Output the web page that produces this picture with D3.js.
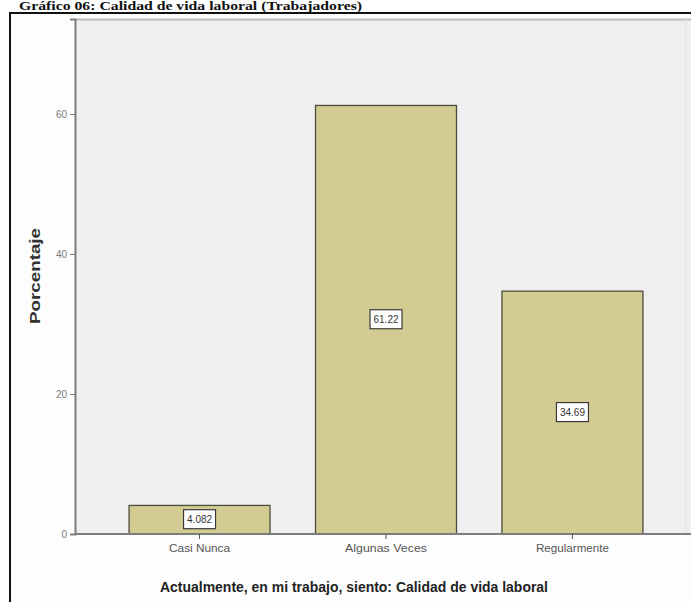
<!DOCTYPE html>
<html><head><meta charset="utf-8">
<script src="https://cdn.jsdelivr.net/npm/d3@7"></script>
<style>html,body{margin:0;padding:0;background:#fff;}svg{display:block;}</style>
</head><body>
<svg id="c" width="691" height="602"></svg>
<script>
const categories = ["Casi Nunca", "Algunas Veces", "Regularmente"];
const values = [4.082, 61.22, 34.69];
const valueLabels = ["4.082", "61.22", "34.69"];
const yTicks = [0, 20, 40, 60];
const chartTitle = "Gráfico 06: Calidad de vida laboral (Trabajadores)";
const xTitle = "Actualmente, en mi trabajo, siento: Calidad de vida laboral";
const yTitle = "Porcentaje";

const svg = d3.select("#c");
const W = 691, H = 602;
const plot = {left: 75, right: 686, top: 19, bottom: 534};

// outer frame
svg.append("rect").attr("x", 10).attr("y", 13).attr("width", W + 20).attr("height", H + 20)
  .attr("fill", "#fdfdfd").attr("stroke", "#111").attr("stroke-width", 2);

// title
svg.append("text").attr("x", 19).attr("y", 10)
  .attr("font-family", "Liberation Serif, Times New Roman, serif").attr("font-weight", "bold")
  .attr("font-size", 12.5).attr("fill", "#111")
  .attr("textLength", 343).attr("lengthAdjust", "spacingAndGlyphs")
  .text(chartTitle);

// plot background
svg.append("rect").attr("x", plot.left).attr("y", plot.top)
  .attr("width", W - plot.left).attr("height", plot.bottom - plot.top).attr("fill", "#efefef");
svg.append("line").attr("x1", plot.left).attr("x2", W).attr("y1", plot.top + 0.5).attr("y2", plot.top + 0.5)
  .attr("stroke", "#bdbdbd").attr("stroke-width", 2);
svg.append("line").attr("x1", plot.right).attr("x2", plot.right).attr("y1", plot.top).attr("y2", plot.bottom)
  .attr("stroke", "#e2e2e2").attr("stroke-width", 1);

const y = d3.scaleLinear().domain([0, (plot.bottom - plot.top) / 7]).range([plot.bottom, plot.top]);
const x = d3.scaleBand().domain(categories).range([75, 697]).paddingInner(0.244).paddingOuter(0.29);

// bars
svg.selectAll("rect.bar").data(values).join("rect").attr("class", "bar")
  .attr("x", (d, i) => x(categories[i]))
  .attr("y", d => y(d))
  .attr("width", x.bandwidth())
  .attr("height", d => y(0) - y(d))
  .attr("fill", "#d2cc93").attr("stroke", "#4d4c3c").attr("stroke-width", 1.3);

// y axis
const yAxis = svg.append("g").attr("transform", `translate(${plot.left},0)`)
  .call(d3.axisLeft(y).tickValues(yTicks).tickSize(5).tickPadding(3));
yAxis.select(".domain").attr("stroke", "#7d7d7d").attr("stroke-width", 2);
yAxis.selectAll(".tick line").attr("stroke", "#7d7d7d");
yAxis.selectAll(".tick text").attr("fill", "#7a7a7a").attr("font-family", "Liberation Sans, Arial, sans-serif")
  .attr("font-size", 10);

// x axis
const xAxis = svg.append("g").attr("transform", `translate(0,${plot.bottom})`)
  .call(d3.axisBottom(x).tickSize(5).tickPadding(6).tickSizeOuter(0));
xAxis.select(".domain").attr("d", `M${plot.left},0H${W}`).attr("stroke", "#7d7d7d").attr("stroke-width", 2);
xAxis.selectAll(".tick line").attr("stroke", "#555");
const tickWidths = {"Casi Nunca": 61, "Algunas Veces": 82, "Regularmente": 73};
xAxis.selectAll(".tick text").attr("fill", "#555").attr("font-family", "Liberation Sans, Arial, sans-serif")
  .attr("font-size", 10.5)
  .attr("textLength", d => tickWidths[d]).attr("lengthAdjust", "spacingAndGlyphs");

// value labels
const lab = svg.selectAll("g.vlab").data(values).join("g").attr("class", "vlab")
  .attr("transform", (d, i) => `translate(${x(categories[i]) + x.bandwidth() / 2},${y(d / 2)})`);
lab.append("rect").attr("x", -16).attr("y", -10).attr("width", 32).attr("height", 19)
  .attr("fill", "#fff").attr("stroke", "#3a3a3a").attr("stroke-width", 1.2);
lab.append("text").attr("text-anchor", "middle").attr("dy", "0.35em")
  .attr("font-family", "Liberation Sans, Arial, sans-serif").attr("font-size", 10).attr("fill", "#333")
  .attr("textLength", 25).attr("lengthAdjust", "spacingAndGlyphs")
  .text((d, i) => valueLabels[i]);

// axis titles
svg.append("text").attr("x", 354).attr("y", 592).attr("text-anchor", "middle")
  .attr("font-family", "Liberation Sans, Arial, sans-serif").attr("font-weight", "bold")
  .attr("font-size", 14).attr("fill", "#222")
  .attr("textLength", 388).attr("lengthAdjust", "spacingAndGlyphs")
  .text(xTitle);
svg.append("text").attr("transform", "translate(40,276) rotate(-90)").attr("text-anchor", "middle")
  .attr("font-family", "Liberation Sans, Arial, sans-serif").attr("font-weight", "bold")
  .attr("font-size", 14).attr("fill", "#333")
  .attr("textLength", 96).attr("lengthAdjust", "spacingAndGlyphs")
  .text(yTitle);
</script>
</body></html>
